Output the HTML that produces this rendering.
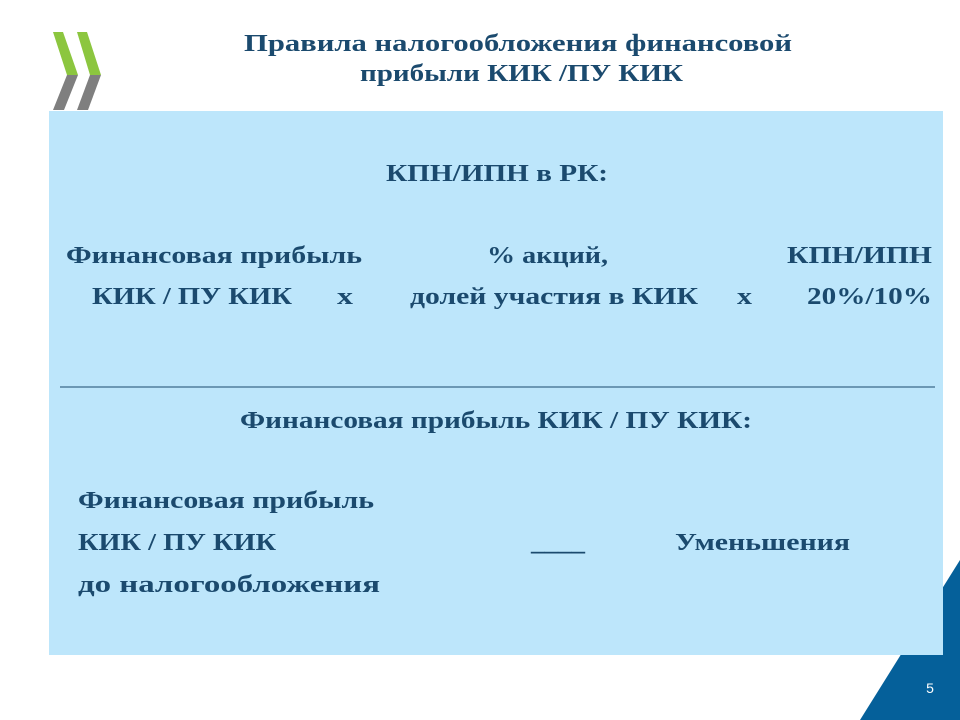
<!DOCTYPE html>
<html><head><meta charset="utf-8"><style>html,body{margin:0;padding:0;background:#fff}svg{display:block}</style></head>
<body>
<svg width="960" height="720" xmlns="http://www.w3.org/2000/svg" font-family="'Liberation Serif','DejaVu Serif',serif" font-weight="bold" fill="#1b4a6e">
<polygon points="53,32 63,32 78,75 67,75" fill="#8cc63f"/>
<polygon points="67,75 78,75 64,110 53,110" fill="#7f7f7f"/>
<polygon points="77,32 87,32 101,75 90,75" fill="#8cc63f"/>
<polygon points="90,75 101,75 88,110 77,110" fill="#7f7f7f"/>
<polygon points="860,720 960,560 960,720" fill="#05609a"/>
<rect x="49" y="111" width="894" height="544" fill="#bde6fb"/>
<text x="930" y="693" fill="#fff" font-family="'Liberation Sans',sans-serif" font-weight="normal" font-size="14" text-anchor="middle">5</text>
<g font-size="24">
<text x="244" y="51" textLength="548" lengthAdjust="spacingAndGlyphs">Правила налогообложения финансовой</text>
<text x="360" y="81" textLength="323" lengthAdjust="spacingAndGlyphs">прибыли КИК /ПУ КИК</text>
</g>
<g font-size="24">
<text x="386" y="181" textLength="222" lengthAdjust="spacingAndGlyphs">КПН/ИПН в РК:</text>
<text x="66" y="263" textLength="296" lengthAdjust="spacingAndGlyphs">Финансовая прибыль</text>
<text x="487" y="263" textLength="121" lengthAdjust="spacingAndGlyphs">% акций,</text>
<text x="787" y="263" textLength="145" lengthAdjust="spacingAndGlyphs">КПН/ИПН</text>
<text x="92" y="304" textLength="200" lengthAdjust="spacingAndGlyphs">КИК / ПУ КИК</text>
<text x="337" y="304" textLength="16" lengthAdjust="spacingAndGlyphs">x</text>
<text x="410" y="304" textLength="288" lengthAdjust="spacingAndGlyphs">долей участия в КИК</text>
<text x="737" y="304" textLength="15" lengthAdjust="spacingAndGlyphs">x</text>
<text x="807" y="304" textLength="125" lengthAdjust="spacingAndGlyphs">20%/10%</text>
<text x="240" y="428" textLength="512" lengthAdjust="spacingAndGlyphs">Финансовая прибыль КИК / ПУ КИК:</text>
<text x="78" y="508" textLength="296" lengthAdjust="spacingAndGlyphs">Финансовая прибыль</text>
<text x="78" y="550" textLength="198" lengthAdjust="spacingAndGlyphs">КИК / ПУ КИК</text>
<text x="531" y="550" textLength="54" lengthAdjust="spacingAndGlyphs">____</text>
<text x="675" y="550" textLength="175" lengthAdjust="spacingAndGlyphs">Уменьшения</text>
<text x="78" y="592" textLength="302" lengthAdjust="spacingAndGlyphs">до налогообложения</text>
</g>
<line x1="60" y1="387" x2="935" y2="387" stroke="#1b4a6e" stroke-width="1"/>
</svg>
</body></html>
